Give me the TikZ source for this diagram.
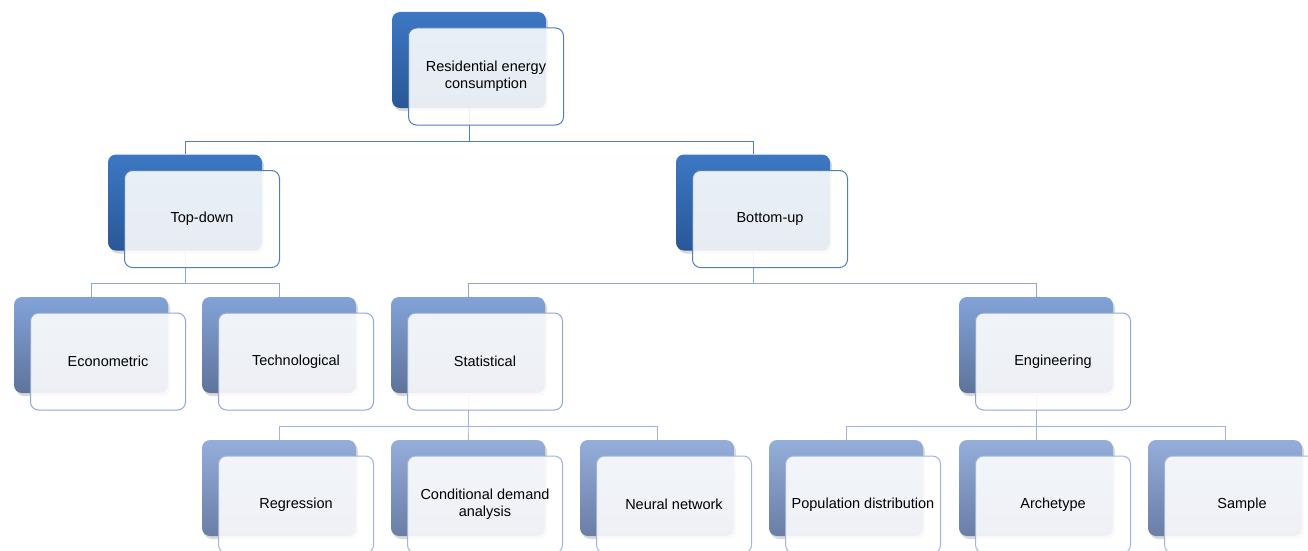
\documentclass[tikz,border=0pt]{standalone}
\usepackage{fontspec}
\setmainfont{Liberation Sans}
\usetikzlibrary{shadows}
\definecolor{darktop}{HTML}{3C78C3}
\definecolor{darkbot}{HTML}{2A5796}
\definecolor{midtop}{HTML}{82A3D8}
\definecolor{midbot}{HTML}{5F7399}
\definecolor{lighttop}{HTML}{94ADDA}
\definecolor{lightbot}{HTML}{6A7EA5}
\definecolor{darkline}{HTML}{4E7EC3}
\definecolor{midline}{HTML}{8FA8D8}
\definecolor{lightline}{HTML}{A0B5DD}
\begin{document}
\begin{tikzpicture}[x=1pt, y=-1pt]
	\tikzstyle{back} = [rounded corners=8pt, minimum width=154pt, minimum height=96pt, inner sep=0pt, drop shadow={shadow xshift=2pt, shadow yshift=-3pt, opacity=0.3}]
	\tikzstyle{darkback} = [back, top color=darktop, bottom color=darkbot]
	\tikzstyle{midback} = [back, top color=midtop, bottom color=midbot]
	\tikzstyle{lightback} = [back, top color=lighttop, bottom color=lightbot]
	\tikzstyle{front} = [rounded corners=8pt, minimum width=155pt, minimum height=97pt, inner sep=2pt, fill=white, fill opacity=0.89, text opacity=1, line width=1pt, align=center, font=\fontsize{14.5}{17}\selectfont]
	\useasboundingbox (0,0) rectangle (1308,551);
	% back boxes
	\node[darkback](root) at (469,60) {};
	\node[darkback](td) at (185,202.5) {};
	\node[darkback](bu) at (753,202.5) {};
	\node[midback](eco) at (91,345) {};
	\node[midback](tec) at (279,345) {};
	\node[midback](sta) at (468,345) {};
	\node[midback](eng) at (1036,345) {};
	\node[lightback](reg) at (279,488) {};
	\node[lightback](cda) at (468,488) {};
	\node[lightback](nn) at (657,488) {};
	\node[lightback](pop) at (846,488) {};
	\node[lightback](arc) at (1036,488) {};
	\node[lightback](sam) at (1225,488) {};
	% connectors
	\draw[darkline, line width=1pt] (root.south) -- ++(0,33) -| (td.north);
	\draw[darkline, line width=1pt] (root.south) -- ++(0,33) -| (bu.north);
	\draw[midline, line width=1pt] (td.south) -- ++(0,33) -| (eco.north);
	\draw[midline, line width=1pt] (td.south) -- ++(0,33) -| (tec.north);
	\draw[midline, line width=1pt] (bu.south) -- ++(0,33) -| (sta.north);
	\draw[midline, line width=1pt] (bu.south) -- ++(0,33) -| (eng.north);
	\draw[lightline, line width=1pt] (sta.south) -- ++(0,33) -| (reg.north);
	\draw[lightline, line width=1pt] (sta.south) -- ++(0,33) -| (cda.north);
	\draw[lightline, line width=1pt] (sta.south) -- ++(0,33) -| (nn.north);
	\draw[lightline, line width=1pt] (eng.south) -- ++(0,33) -| (pop.north);
	\draw[lightline, line width=1pt] (eng.south) -- ++(0,33) -| (arc.north);
	\draw[lightline, line width=1pt] (eng.south) -- ++(0,33) -| (sam.north);
	% front boxes
	\node[front, draw=darkline](rootf) at (486,76.5) {Residential energy\\consumption};
	\node[front, draw=darkline](tdf) at (202,219) {Top-down};
	\node[front, draw=darkline](buf) at (770,219) {Bottom-up};
	\node[front, draw=midline](ecof) at (108,361.5) {Econometric};
	\node[front, draw=midline](tecf) at (296,361.5) {Technological};
	\node[front, draw=midline](staf) at (485,361.5) {Statistical};
	\node[front, draw=midline](engf) at (1053,361.5) {Engineering};
	\node[front, draw=lightline](regf) at (296,504.5) {Regression};
	\node[front, draw=lightline](cdaf) at (485,504.5) {Conditional demand\\analysis};
	\node[front, draw=lightline](nnf) at (674,504.5) {Neural network};
	\node[front, draw=lightline](popf) at (863,504.5) {Population distribution};
	\node[front, draw=lightline](arcf) at (1053,504.5) {Archetype};
	\node[front, draw=lightline](samf) at (1242,504.5) {Sample};
\end{tikzpicture}
\end{document}
